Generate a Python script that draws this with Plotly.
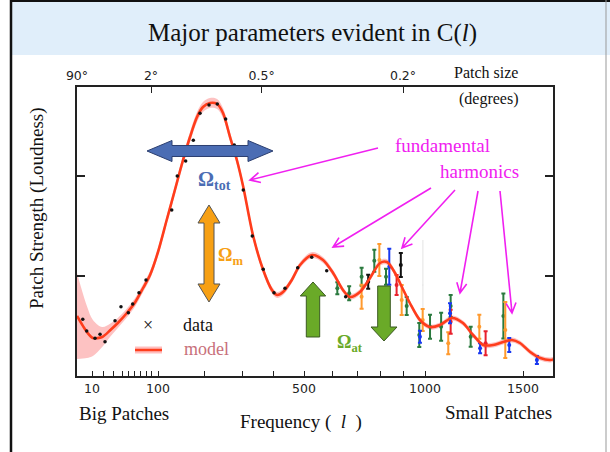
import numpy as np
import plotly.graph_objects as go

# ---- horizontal scale: multipole l against position (px along the axis) ----
# log-like at low l, close to linear at high l
SCALE_L = [6, 10, 20, 30, 40, 50, 60, 70, 80, 90, 100, 200, 300, 400, 500,
           600, 700, 800, 900, 1000, 1500, 1700]
SCALE_POS = [0, 15, 26, 36, 45, 51, 57, 63, 69, 74, 81, 127, 165, 196, 227,
             255, 280, 303, 326, 348, 446, 485.2]
AXIS_LEN = 476

TICK_L = [10, 100, 500, 1000, 1500]
TICK_TEXT = ["10", "100", "500", "1000", "1500"]
MINOR_L = [20, 30, 40, 50, 60, 70, 80, 90, 200, 300, 400, 600, 700, 800, 900]

ANGLE_DEG = [90, 2, 0.5, 0.2]
ANGLE_TEXT = ["90°", "2°", "0.5°", "0.2°"]

# ---- model spectrum ----
MODEL_L = [6, 8.4, 10.6, 19, 27, 35, 48, 62, 75, 88,
           100, 114, 129, 144, 162, 180, 197, 213, 230, 245,
           264, 284, 303, 332, 364, 396, 412, 430, 458, 486,
           527, 566, 604, 642, 670, 712, 755, 800, 829, 864,
           895, 930, 976, 1021, 1064, 1118, 1170, 1220, 1272, 1326,
           1381, 1433, 1481, 1535, 1585, 1637, 1675]
MODEL_D = [1200, 880, 760, 780, 920, 1060, 1260, 1480, 1760, 2020,
           2480, 3120, 3720, 4260, 4780, 5180, 5380, 5460, 5440, 5260,
           4780, 4320, 3800, 2820, 2140, 1720, 1620, 1680, 1920, 2220,
           2420, 2320, 2060, 1720, 1580, 1680, 1960, 2260, 2280, 2060,
           1780, 1460, 1120, 980, 1020, 1160, 1060, 820, 620, 620,
           680, 720, 660, 480, 360, 320, 360]
MODEL_ERR = [860, 520, 360, 200, 130, 100, 90, 85, 80, 80,
             80, 85, 90, 95, 100, 100, 100, 100, 100, 100,
             95, 90, 85, 80, 70, 65, 60, 60, 60, 60,
             60, 60, 60, 55, 55, 55, 55, 55, 55, 55,
             50, 50, 50, 50, 50, 50, 50, 50, 50, 50,
             50, 50, 50, 50, 50, 50, 50]

# ---- measurements ----
DOT_L = [7.3, 8.35, 12.1, 16.6, 21.7, 32, 38.7, 50.5, 57.7, 68.2, 80,
         123, 133.7, 151.7, 170.2, 188.4, 211, 230.5, 252, 276.3, 303.5,
         330, 365.4, 402.9, 436, 477.8, 525.8, 579.7, 652.8]
DOT_D = [1134, 900, 754, 834, 686, 1106, 1386, 1266, 1440, 1666, 1920,
         3320, 4000, 4300, 4714, 5254, 5420, 5440, 5140, 4620, 3720,
         2800, 2134, 1666, 1754, 2166, 2374, 2106, 1586]

GREEN_L = [620, 667, 719, 774, 825, 916, 973, 1021, 1069, 1112, 1208, 1383]
GREEN_D = [1754, 1654, 1986, 2306, 1986, 1400, 820, 986, 986, 1400, 786, 1200]
GREEN_E = [120, 140, 180, 220, 160, 180, 240, 240, 280, 220, 200, 450]

ORANGE_L = [719, 797, 894, 989, 1101, 1252, 1394]
ORANGE_D = [1586, 2320, 1520, 1120, 654, 986, 920]
ORANGE_E = [240, 320, 300, 220, 220, 240, 560]

BLUE_L = [839, 976, 1109, 1256, 1417, 1568]
BLUE_D = [2186, 786, 1254, 554, 620, 320]
BLUE_E = [360, 120, 200, 100, 140, 80]

RED_L = [871, 1112, 1285]
RED_D = [1820, 1086, 654]
RED_E = [200, 240, 240]

BLACK_L = [747, 890]
BLACK_D = [1886, 2220]
BLACK_E = [140, 240]

GRAY_L = [990]
GRAY_D = [1820]
GRAY_E = [900]

Y_RANGE = [0, 5780]


def to_axis(l):
    return np.interp(np.log10(np.asarray(l, dtype=float)),
                     np.log10(SCALE_L), SCALE_POS)


# figure geometry (px)
W, H = 610, 452
ML, MR, MT, MB = 77, 57, 87, 76
PW, PH = W - ML - MR, H - MT - MB


def xp(x):
    return (x - ML) / PW


def yp(y):
    return (H - MB - y) / PH


def path(points, closed=True):
    p = "M " + " L ".join(f"{xp(a):.5f},{yp(b):.5f}" for a, b in points)
    return p + (" Z" if closed else "")


def h_double_arrow(x0, x1, yc, head, hw, bw):
    return path([(x0, yc), (x0 + head, yc - hw), (x0 + head, yc - bw),
                 (x1 - head, yc - bw), (x1 - head, yc - hw), (x1, yc),
                 (x1 - head, yc + hw), (x1 - head, yc + bw),
                 (x0 + head, yc + bw), (x0 + head, yc + hw)])


def v_double_arrow(xc, y0, y1, head, hw, bw):
    return path([(xc, y0), (xc + hw, y0 + head), (xc + bw, y0 + head),
                 (xc + bw, y1 - head), (xc + hw, y1 - head), (xc, y1),
                 (xc - hw, y1 - head), (xc - bw, y1 - head),
                 (xc - bw, y0 + head), (xc - hw, y0 + head)])


def v_arrow(xc, tip, tail, head, hw, bw):
    s = 1 if tail > tip else -1
    return path([(xc, tip), (xc + hw, tip + s * head), (xc + bw, tip + s * head),
                 (xc + bw, tail), (xc - bw, tail), (xc - bw, tip + s * head),
                 (xc - hw, tip + s * head)])


def pointer(start, tip, head=10, half=5):
    (sx, sy), (tx, ty) = start, tip
    dx, dy = tx - sx, ty - sy
    n = np.hypot(dx, dy)
    ux, uy = dx / n, dy / n
    bx, by = tx - head * ux, ty - head * uy
    a = (bx - half * uy, by + half * ux)
    b = (bx + half * uy, by - half * ux)
    return path([(sx, sy), (tx, ty)], closed=False) + " " + path([a, (tx, ty), b], closed=False)


fig = go.Figure()

mx = to_axis(MODEL_L)
md = np.array(MODEL_D, dtype=float)
me = np.array(MODEL_ERR, dtype=float)

# cosmic-variance band around the model
fig.add_trace(go.Scatter(x=mx, y=md - me, mode="lines", line=dict(width=0, shape="spline"),
                         hoverinfo="skip", showlegend=False))
fig.add_trace(go.Scatter(x=mx, y=md + me, mode="lines", line=dict(width=0, shape="spline"),
                         fill="tonexty", fillcolor="rgba(250,120,120,0.45)",
                         hoverinfo="skip", showlegend=False))

# faint wide measurement
fig.add_trace(go.Scatter(
    x=to_axis(GRAY_L), y=GRAY_D, mode="markers",
    marker=dict(size=1, color="rgba(215,215,215,0.7)"),
    error_y=dict(type="data", array=GRAY_E, color="rgba(215,215,215,0.7)", thickness=1, width=0),
    showlegend=False))

# measurement points with error bars
series = [
    (GREEN_L, GREEN_D, GREEN_E, "#2a7a3e"),
    (ORANGE_L, ORANGE_D, ORANGE_E, "#ff9a2e"),
    (RED_L, RED_D, RED_E, "#e8202c"),
    (BLUE_L, BLUE_D, BLUE_E, "#1838f0"),
    (BLACK_L, BLACK_D, BLACK_E, "#111111"),
]
for ls, ds, es, col in series:
    fig.add_trace(go.Scatter(
        x=to_axis(ls), y=ds, mode="markers",
        marker=dict(size=4, color=col),
        error_y=dict(type="data", array=es, color=col, thickness=2, width=2),
        showlegend=False))

# model curve
fig.add_trace(go.Scatter(x=mx, y=md, mode="lines",
                         line=dict(color="#ff3d1c", width=2.6, shape="spline", smoothing=0.8),
                         showlegend=False))

# low-l measurements
fig.add_trace(go.Scatter(x=to_axis(DOT_L), y=DOT_D, mode="markers",
                         marker=dict(size=3.5, color="#111111"), showlegend=False))

axis_font = dict(family="DejaVu Sans", size=12.5, color="#222")

fig.update_layout(
    width=W, height=H,
    margin=dict(l=ML, r=MR, t=MT, b=MB),
    paper_bgcolor="white", plot_bgcolor="white",
    showlegend=False,
    xaxis=dict(range=[0, AXIS_LEN], showgrid=False, zeroline=False,
               showline=True, linecolor="#222", linewidth=1.5,
               tickmode="array", tickvals=to_axis(TICK_L), ticktext=TICK_TEXT,
               ticks="inside", ticklen=5, tickwidth=1, tickcolor="#222",
               tickfont=axis_font,
               minor=dict(tickmode="array", tickvals=to_axis(MINOR_L), ticks="inside",
                          ticklen=5, tickwidth=1, tickcolor="#222", showgrid=False)),
    xaxis2=dict(range=[0, AXIS_LEN], overlaying="x", side="top", showgrid=False,
                zeroline=False, showline=True, linecolor="#222", linewidth=1.5,
                tickmode="array", tickvals=to_axis([180.0 / a for a in ANGLE_DEG]),
                ticktext=ANGLE_TEXT, ticks="inside", ticklen=6, tickwidth=1,
                tickcolor="#222", tickfont=axis_font),
    yaxis=dict(range=Y_RANGE, showgrid=False, zeroline=False,
               showline=True, linecolor="#222", linewidth=2, mirror="ticks",
               tickmode="array", tickvals=[2000, 4000], showticklabels=False,
               ticks="inside", ticklen=8, tickwidth=1.5, tickcolor="#222"),
)
# empty trace so the top axis is drawn
fig.add_trace(go.Scatter(x=[None], y=[None], xaxis="x2", showlegend=False))

MAGENTA = "#f020f0"
shapes = [
    # title band and slide frame
    dict(type="rect", xref="paper", yref="paper", x0=xp(11), x1=xp(W), y0=yp(0), y1=yp(55),
         fillcolor="#e0eefa", line=dict(width=0), layer="below"),
    dict(type="line", xref="paper", yref="paper", x0=xp(11), x1=xp(11), y0=yp(0), y1=yp(H),
         line=dict(color="#111", width=2.5)),
    dict(type="line", xref="paper", yref="paper", x0=xp(11), x1=xp(W), y0=yp(1), y1=yp(1),
         line=dict(color="#111", width=2)),
    dict(type="line", xref="paper", yref="paper", x0=xp(606), x1=xp(606), y0=yp(0), y1=yp(H),
         line=dict(color="#999", width=1)),
    # Omega_tot, Omega_m, Omega_at arrows
    dict(type="path", xref="paper", yref="paper", path=h_double_arrow(147, 273, 151, 25, 10.5, 5.5),
         fillcolor="#4b6db4", line=dict(color="#2c3f70", width=1)),
    dict(type="path", xref="paper", yref="paper", path=v_double_arrow(209, 205, 302, 18, 11, 5),
         fillcolor="#f7a014", line=dict(color="#555", width=1)),
    dict(type="path", xref="paper", yref="paper", path=v_arrow(313, 282, 337, 14, 12.7, 6.7),
         fillcolor="#6aaa28", line=dict(color="#3b5a22", width=1)),
    dict(type="path", xref="paper", yref="paper", path=v_arrow(384, 341, 286, 14, 13, 6.3),
         fillcolor="#6aaa28", line=dict(color="#3b5a22", width=1)),
    # legend line
    dict(type="line", xref="paper", yref="paper", x0=xp(135), x1=xp(162), y0=yp(350), y1=yp(350),
         line=dict(color="rgba(255,110,110,0.45)", width=7)),
    dict(type="line", xref="paper", yref="paper", x0=xp(135), x1=xp(162), y0=yp(350), y1=yp(350),
         line=dict(color="#ff3d1c", width=2.5)),
]

# pointers from the labels to the peaks
pointers = [((378, 148), (250, 180)), ((431, 188), (333, 247)), ((455, 190), (402, 248)),
            ((478, 191), (460, 293)), ((500, 191), (512, 313))]
for s, t in pointers:
    shapes.append(dict(type="path", xref="paper", yref="paper", path=pointer(s, t),
                       line=dict(color=MAGENTA, width=1.6)))

fig.update_layout(shapes=shapes)

serif = "Liberation Serif"
ann = []


def text(x, y, s, size, color="#111", family=serif, **kw):
    ann.append(dict(x=xp(x), y=yp(y), xref="paper", yref="paper", text=s, showarrow=False,
                    font=dict(family=family, size=size, color=color),
                    xanchor="center", yanchor="middle", **kw))


text(312, 33, "Major parameters evident in C(<i>l</i>)", 25)
text(37, 208, "Patch Strength (Loudness)", 19, textangle=-90)
text(124, 413, "Big Patches", 19)
text(301, 422, "Frequency (  <i>l</i>  )", 19)
text(498, 412, "Small Patches", 19)
text(486, 73, "Patch size", 16)
text(489, 99, "(degrees)", 16)
text(148, 325, "×", 18)
text(198, 325, "data", 18)
text(206, 349, "model", 18, color="#c8707a")
text(214, 180, "<b>Ω<sub>tot</sub></b>", 20, color="#4b6db4")
text(230, 256, "<b>Ω<sub>m</sub></b>", 18, color="#f7a014")
text(350, 343, "<b>Ω<sub>at</sub></b>", 18, color="#6aaa28")
text(442, 145, "fundamental", 19, color=MAGENTA)
text(479, 171, "harmonics", 19, color=MAGENTA)

fig.update_layout(annotations=ann)
fig.write_html("out.html")
